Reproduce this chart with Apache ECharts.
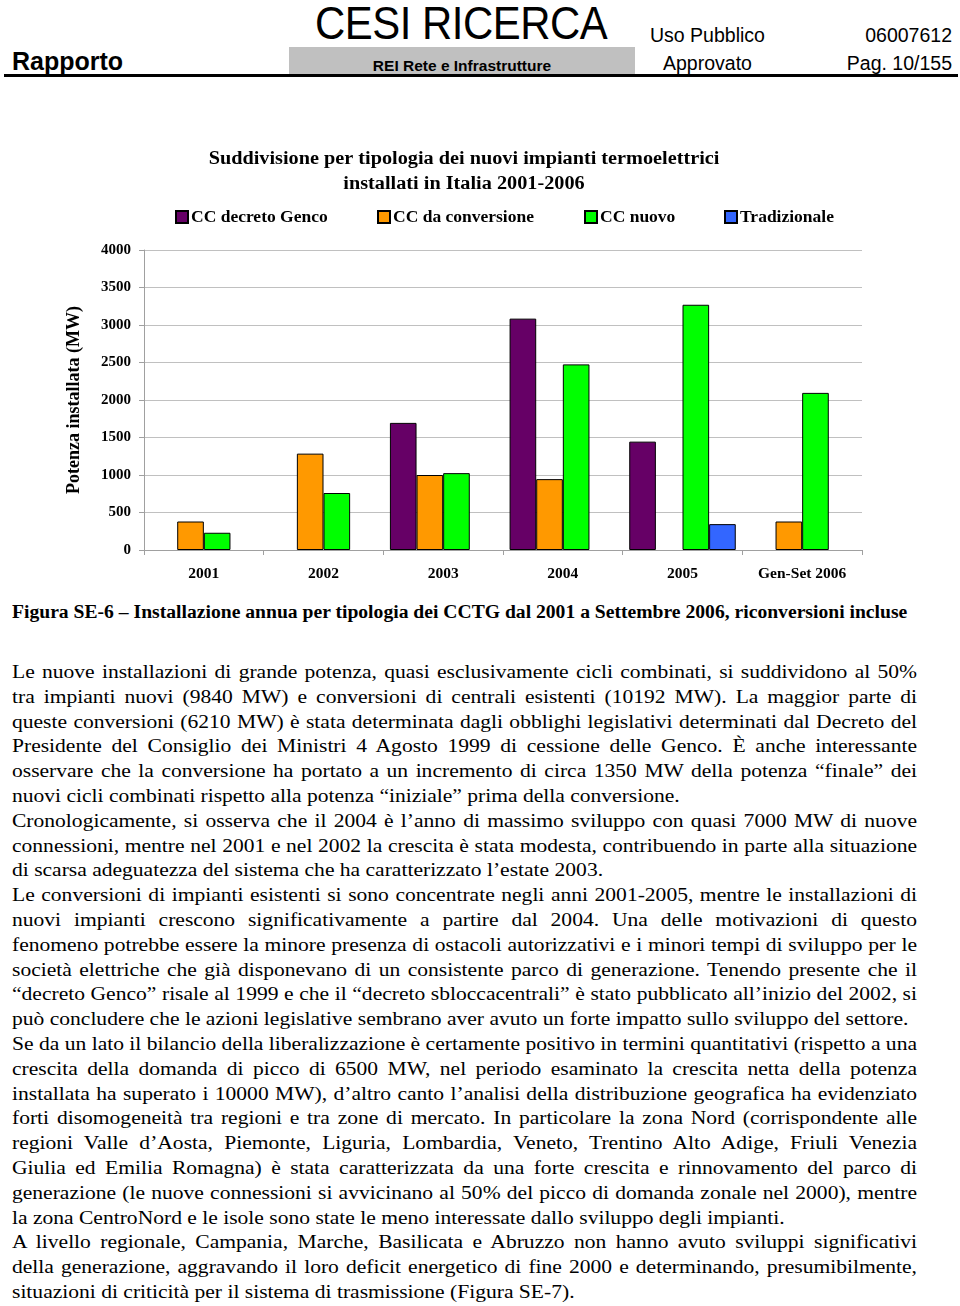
<!DOCTYPE html>
<html>
<head>
<meta charset="utf-8">
<script src="https://cdn.jsdelivr.net/npm/echarts@6/dist/echarts.min.js"></script>
<style>
  html, body { margin: 0; padding: 0; background: #fff; }
  body { width: 960px; height: 1306px; position: relative; overflow: hidden; color: #000; }
  .abs { position: absolute; white-space: nowrap; }
  .sans { font-family: "Liberation Sans", Arial, sans-serif; }
  .serif { font-family: "Liberation Serif", "Times New Roman", serif; }
  #chart { position: absolute; left: 0; top: 130px; width: 960px; height: 470px; }
  #body { position: absolute; left: 12px; top: 660px; width: 819px; font-size: 19.5px; line-height: 24.8px;
          transform: scaleX(1.105); transform-origin: 0 0; }
  #body div { white-space: nowrap; }
  #body div.j { text-align: justify; text-align-last: justify; white-space: normal; }
</style>
</head>
<body>
<!-- intestazione pagina -->
<div class="abs sans" style="left:12px;top:47px;font-size:25px;font-weight:bold;">Rapporto</div>
<div class="abs sans" style="left:315px;top:-4px;font-size:46px;transform:scaleX(0.91);transform-origin:left top;letter-spacing:-0.5px;">CESI RICERCA</div>
<div class="abs" style="left:289px;top:47px;width:346px;height:28px;background:#c0c0c0;"></div>
<div class="abs sans" style="left:289px;top:57px;width:346px;text-align:center;font-size:15.5px;font-weight:bold;">REI Rete e Infrastrutture</div>
<div class="abs sans" style="left:650px;top:24px;font-size:19.5px;">Uso Pubblico</div>
<div class="abs sans" style="left:800px;top:24px;width:152px;text-align:right;font-size:19.5px;">06007612</div>
<div class="abs sans" style="left:663px;top:52px;font-size:19.5px;">Approvato</div>
<div class="abs sans" style="left:800px;top:52px;width:152px;text-align:right;font-size:19.5px;">Pag. 10/155</div>
<div class="abs" style="left:4px;top:74px;width:954px;height:3px;background:#000;"></div>

<div id="chart"></div>

<div class="abs serif" style="left:12px;top:602px;font-size:18px;font-weight:bold;transform:scaleX(1.09);transform-origin:0 0;">Figura SE-6 – Installazione annua per tipologia dei CCTG dal 2001 a Settembre 2006, riconversioni incluse</div>

<div id="body" class="serif">
<div class="j">Le nuove installazioni di grande potenza, quasi esclusivamente cicli combinati, si suddividono al 50%</div>
<div class="j">tra impianti nuovi (9840 MW) e conversioni di centrali esistenti (10192 MW). La maggior parte di</div>
<div class="j">queste conversioni (6210 MW) è stata determinata dagli obblighi legislativi determinati dal Decreto del</div>
<div class="j">Presidente del Consiglio dei Ministri 4 Agosto 1999 di cessione delle Genco. È anche interessante</div>
<div class="j">osservare che la conversione ha portato a un incremento di circa 1350 MW della potenza “finale” dei</div>
<div>nuovi cicli combinati rispetto alla potenza “iniziale” prima della conversione.</div>
<div class="j">Cronologicamente, si osserva che il 2004 è l’anno di massimo sviluppo con quasi 7000 MW di nuove</div>
<div class="j">connessioni, mentre nel 2001 e nel 2002 la crescita è stata modesta, contribuendo in parte alla situazione</div>
<div>di scarsa adeguatezza del sistema che ha caratterizzato l’estate 2003.</div>
<div class="j">Le conversioni di impianti esistenti si sono concentrate negli anni 2001-2005, mentre le installazioni di</div>
<div class="j">nuovi impianti crescono significativamente a partire dal 2004. Una delle motivazioni di questo</div>
<div class="j">fenomeno potrebbe essere la minore presenza di ostacoli autorizzativi e i minori tempi di sviluppo per le</div>
<div class="j">società elettriche che già disponevano di un consistente parco di generazione. Tenendo presente che il</div>
<div class="j">“decreto Genco” risale al 1999 e che il “decreto sbloccacentrali” è stato pubblicato all’inizio del 2002, si</div>
<div>può concludere che le azioni legislative sembrano aver avuto un forte impatto sullo sviluppo del settore.</div>
<div class="j">Se da un lato il bilancio della liberalizzazione è certamente positivo in termini quantitativi (rispetto a una</div>
<div class="j">crescita della domanda di picco di 6500 MW, nel periodo esaminato la crescita netta della potenza</div>
<div class="j">installata ha superato i 10000 MW), d’altro canto l’analisi della distribuzione geografica ha evidenziato</div>
<div class="j">forti disomogeneità tra regioni e tra zone di mercato. In particolare la zona Nord (corrispondente alle</div>
<div class="j">regioni Valle d’Aosta, Piemonte, Liguria, Lombardia, Veneto, Trentino Alto Adige, Friuli Venezia</div>
<div class="j">Giulia ed Emilia Romagna) è stata caratterizzata da una forte crescita e rinnovamento del parco di</div>
<div class="j">generazione (le nuove connessioni si avvicinano al 50% del picco di domanda zonale nel 2000), mentre</div>
<div>la zona CentroNord e le isole sono state le meno interessate dallo sviluppo degli impianti.</div>
<div class="j">A livello regionale, Campania, Marche, Basilicata e Abruzzo non hanno avuto sviluppi significativi</div>
<div class="j">della generazione, aggravando il loro deficit energetico di fine 2000 e determinando, presumibilmente,</div>
<div>situazioni di criticità per il sistema di trasmissione (Figura SE-7).</div>
</div>

<script>
// dati (MW installati per anno)
const anni = ['2001', '2002', '2003', '2004', '2005', 'Gen-Set 2006'];
const ccGenco = ['-', '-', 1695, 3085, 1445, '-'];
const ccConversione = [380, 1285, 1000, 945, '-', 380];
const ccNuovo = [230, 760, 1025, 2475, 3270, 2095];
const tradizionale = ['-', '-', '-', '-', 345, '-'];

const nomiSerie = ['CC decreto Genco', 'CC da conversione', 'CC nuovo', 'Tradizionale'];
const colori = ['#660066', '#FF9900', '#00FF00', '#3366FF'];
const titoloRighe = ['Suddivisione per tipologia dei nuovi impianti termoelettrici', 'installati in Italia 2001-2006'];
const yTicks = { min: 0, max: 4000, interval: 500 };

const SERIF = '"Liberation Serif", "Times New Roman", serif';
const chart = echarts.init(document.getElementById('chart'));

const legendLeft = [175, 377, 584, 724];
const datiSerie = [ccGenco, ccConversione, ccNuovo, tradizionale];

chart.setOption({
  animation: false,
  // titolo su due righe, leggermente allargato come nell'originale
  graphic: titoloRighe.map((t, i) => ({
    type: 'text', x: 464, y: 29 + i * 25, scaleX: 1.125,
    style: { text: t, fill: '#000', font: 'bold 18px ' + SERIF, textAlign: 'center', textVerticalAlign: 'middle' }
  })),
  legend: nomiSerie.map((n, i) => ({
    data: [n], left: legendLeft[i], top: 78, padding: 0,
    itemWidth: 12, itemHeight: 12, itemGap: 0, icon: 'rect',
    textStyle: { fontFamily: SERIF, fontWeight: 'bold', fontSize: 17.5, color: '#000', padding: [0, 0, 0, -2] }
  })),
  grid: { left: 144, top: 120, width: 718, height: 300, containLabel: false },
  xAxis: {
    type: 'category', data: anni,
    axisLine: { lineStyle: { color: '#a0a0a0', width: 1 } },
    axisTick: { show: true, length: 5, lineStyle: { color: '#a0a0a0' } },
    axisLabel: { fontFamily: SERIF, fontWeight: 'bold', fontSize: 15.5, color: '#000', margin: 16 }
  },
  yAxis: {
    type: 'value', min: yTicks.min, max: yTicks.max, interval: yTicks.interval,
    name: 'Potenza installata (MW)', nameLocation: 'middle', nameGap: 61,
    nameTextStyle: { fontFamily: SERIF, fontWeight: 'bold', fontSize: 18, color: '#000' },
    axisLine: { show: true, lineStyle: { color: '#a0a0a0', width: 1 } },
    axisTick: { show: true, length: 5, lineStyle: { color: '#a0a0a0' } },
    splitLine: { lineStyle: { color: '#c0c0c0', width: 1 } },
    axisLabel: { fontFamily: SERIF, fontWeight: 'bold', fontSize: 15, color: '#000', margin: 13,
      formatter: v => String(v) }
  },
  series: nomiSerie.map((n, i) => ({
    name: n, type: 'bar', data: datiSerie[i],
    barGap: '0%', barCategoryGap: '11%',
    itemStyle: { color: colori[i], borderColor: '#000', borderWidth: 1 }
  }))
});
</script>
</body>
</html>
